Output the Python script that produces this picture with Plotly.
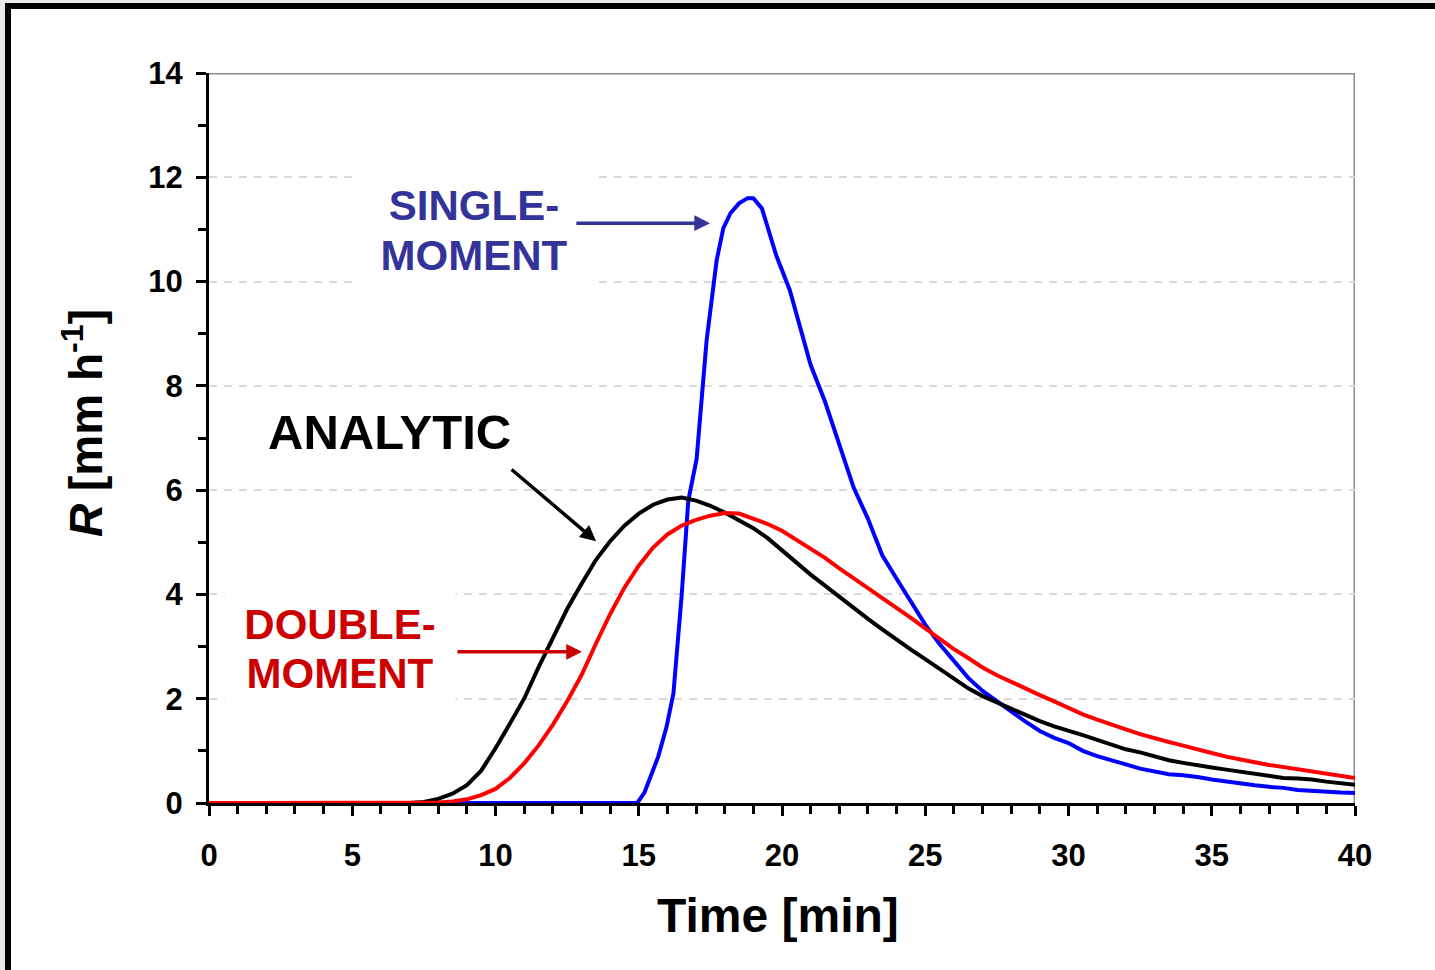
import plotly.graph_objects as go

# ---------------- data ----------------
analytic_t = [0, 7.0, 7.5, 8.0, 8.5, 9.0, 9.5, 10.0, 10.5, 11.0, 11.5, 12.0, 12.5, 13.0, 13.5,
              14.0, 14.5, 15.0, 15.5, 16.0, 16.5, 17.0, 17.5, 18.0, 18.5, 19.0, 19.5, 20.0,
              20.5, 21.0, 21.5, 22.0, 22.5, 23.0, 23.5, 24.0, 24.5, 25.0, 25.5, 26.0, 26.5,
              27.0, 27.5, 28.0, 28.5, 29.0, 29.5, 30.0, 30.5, 31.0, 31.5, 32.0, 32.5, 33.0,
              33.5, 34.0, 34.5, 35.0, 35.5, 36.0, 36.5, 37.0, 37.5, 38.0, 38.5, 39.0, 39.5, 40.0]
analytic_r = [0, 0.0, 0.02, 0.08, 0.18, 0.34, 0.62, 1.05, 1.52, 2.0, 2.6, 3.15, 3.72, 4.2, 4.66,
              5.02, 5.32, 5.55, 5.72, 5.82, 5.86, 5.8, 5.7, 5.57, 5.42, 5.27, 5.08, 4.85,
              4.6, 4.38, 4.17, 3.95, 3.74, 3.53, 3.33, 3.13, 2.94, 2.76, 2.58, 2.38, 2.2,
              2.05, 1.93, 1.8, 1.68, 1.57, 1.47, 1.39, 1.3, 1.21, 1.12, 1.03, 0.97, 0.9,
              0.82, 0.77, 0.72, 0.68, 0.64, 0.6, 0.55, 0.51, 0.48, 0.47, 0.45, 0.41, 0.38, 0.35]

double_t = [0, 7.5, 8.0, 8.5, 9.0, 9.5, 10.0, 10.5, 11.0, 11.5, 12.0, 12.5, 13.0, 13.5, 14.0,
            14.5, 15.0, 15.5, 16.0, 16.5, 17.0, 17.5, 18.0, 18.5, 19.0, 19.5, 20.0, 20.5,
            21.0, 21.5, 22.0, 22.5, 23.0, 23.5, 24.0, 24.5, 25.0, 25.5, 26.0, 26.5, 27.0,
            27.5, 28.0, 28.5, 29.0, 29.5, 30.0, 30.5, 31.0, 31.5, 32.0, 32.5, 33.0, 33.5,
            34.0, 34.5, 35.0, 35.5, 36.0, 36.5, 37.0, 37.5, 38.0, 38.5, 39.0, 39.5, 40.0]
double_r = [0, 0.0, 0.01, 0.03, 0.07, 0.15, 0.27, 0.48, 0.76, 1.1, 1.5, 1.95, 2.45, 3.05, 3.62,
            4.13, 4.55, 4.9, 5.15, 5.32, 5.43, 5.51, 5.56, 5.55, 5.46, 5.35, 5.22, 5.05,
            4.88, 4.7, 4.5, 4.32, 4.12, 3.93, 3.75, 3.55, 3.35, 3.15, 2.95, 2.78, 2.6,
            2.45, 2.32, 2.18, 2.07, 1.95, 1.82, 1.7, 1.6, 1.5, 1.41, 1.32, 1.24, 1.17,
            1.1, 1.02, 0.96, 0.89, 0.83, 0.78, 0.73, 0.69, 0.64, 0.6, 0.56, 0.52, 0.48]

single_t = [0, 14.95, 15.2, 15.4, 15.68, 15.97, 16.21, 16.5, 16.73, 17.02, 17.37, 17.72, 17.95,
            18.2, 18.5, 18.8, 19.0, 19.3, 19.5, 19.8, 20.27, 20.63, 21.0, 21.5, 22.0, 22.5,
            23.0, 23.5, 24.0, 24.5, 25.0, 25.5, 26.0, 26.5, 27.0, 27.5, 28.0, 28.5, 29.0,
            29.5, 30.0, 30.5, 31.0, 31.5, 32.0, 32.5, 33.0, 33.5, 34.0, 34.5, 35.0, 35.5,
            36.0, 36.5, 37.0, 37.5, 38.0, 38.5, 39.0, 39.5, 40.0]
single_r = [0, 0.0, 0.2, 0.5, 0.89, 1.46, 2.1, 4.0, 5.8, 6.6, 8.88, 10.41, 11.02,
            11.31, 11.5, 11.6, 11.6, 11.4, 11.05, 10.5, 9.84, 9.13, 8.4, 7.7, 6.9, 6.05,
            5.45, 4.75, 4.3, 3.86, 3.42, 3.05, 2.72, 2.4, 2.15, 1.95, 1.75, 1.56, 1.38,
            1.25, 1.15, 1.0, 0.9, 0.81, 0.74, 0.66, 0.6, 0.55, 0.53, 0.5, 0.45, 0.41,
            0.37, 0.34, 0.31, 0.29, 0.25, 0.23, 0.22, 0.2, 0.19]

x_ticks = [0, 5, 10, 15, 20, 25, 30, 35, 40]
y_ticks = [0, 2, 4, 6, 8, 10, 12, 14]

FONT = "Liberation Sans, Arial, sans-serif"
BLUE_TXT = "#333399"
RED_TXT = "#cc0000"

fig = go.Figure()
fig.add_trace(go.Scatter(x=single_t, y=single_r, mode="lines",
                         line=dict(color="#0000ff", width=4), name="SINGLE-MOMENT"))
fig.add_trace(go.Scatter(x=analytic_t, y=analytic_r, mode="lines",
                         line=dict(color="#000000", width=4), name="ANALYTIC"))
fig.add_trace(go.Scatter(x=double_t, y=double_r, mode="lines",
                         line=dict(color="#ff0000", width=4), name="DOUBLE-MOMENT"))

# plot-area geometry (px) used for paper coordinates
L, R_, T, B = 209, 80, 73, 167
W, H = 1435, 970
PW, PH = W - L - R_, H - T - B


def px2paper_x(px):
    return (px - L) / PW


def px2paper_y(py):
    return (H - B - py) / PH


shapes = [
    # outer frame
    dict(type="rect", xref="paper", yref="paper",
         x0=px2paper_x(8), x1=px2paper_x(1460), y0=px2paper_y(1000), y1=px2paper_y(6),
         line=dict(color="black", width=6), fillcolor="white", layer="below"),
    # gray top / right border
    dict(type="line", xref="x", yref="y", x0=0, x1=40, y0=14, y1=14,
         line=dict(color="#8c8c8c", width=3), layer="above"),
    dict(type="line", xref="x", yref="y", x0=40, x1=40, y0=0, y1=14,
         line=dict(color="#8c8c8c", width=3), layer="below"),
]

annotations = []


def label(text, x, y, size, color, width=None, height=None, bg=None):
    d = dict(text=text, x=x, y=y, xref="x", yref="y", showarrow=False,
             font=dict(family=FONT, size=size, color=color, weight="bold"),
             xanchor="center", yanchor="middle", borderpad=0)
    if width:
        d["width"] = width
    if height:
        d["height"] = height
    if bg:
        d["bgcolor"] = bg
    annotations.append(d)


def arrow(x_tail, y_tail, x_head, y_head, color):
    annotations.append(dict(text="", x=x_head, y=y_head, ax=x_tail, ay=y_tail,
                            xref="x", yref="y", axref="x", ayref="y",
                            showarrow=True, arrowhead=2, arrowsize=0.9,
                            arrowwidth=3.5, arrowcolor=color, standoff=0))


label("SINGLE-", 9.25, 11.47, 42, BLUE_TXT, 238, 58, "white")
label("MOMENT", 9.25, 10.51, 42, BLUE_TXT, 238, 56, "white")
label("DOUBLE-", 4.57, 3.43, 42, RED_TXT, 230, 62, "white")
label("MOMENT", 4.57, 2.49, 42, RED_TXT, 230, 60, "white")
label("ANALYTIC", 6.30, 7.12, 49, "black")

arrow(12.77, 11.12, 17.49, 11.12, BLUE_TXT)
arrow(10.51, 6.42, 13.51, 5.02, "black")
arrow(8.62, 2.90, 13.02, 2.90, RED_TXT)

# axis titles
annotations.append(dict(text="Time [min]", xref="paper", yref="paper",
                        x=px2paper_x(778), y=px2paper_y(915), showarrow=False,
                        xanchor="center", yanchor="middle",
                        font=dict(family=FONT, size=48, color="black", weight="bold")))
annotations.append(dict(text="<i>R</i> [mm h<sup>-1</sup>]", xref="paper", yref="paper",
                        x=px2paper_x(83), y=px2paper_y(423), showarrow=False,
                        textangle=-90, xanchor="center", yanchor="middle",
                        font=dict(family=FONT, size=46, color="black", weight="bold")))

fig.update_layout(
    width=W, height=H,
    margin=dict(l=L, r=R_, t=T, b=B),
    paper_bgcolor="#e8e8e8",
    plot_bgcolor="rgba(0,0,0,0)",
    showlegend=False,
    shapes=shapes,
    annotations=annotations,
    font=dict(family=FONT, color="black"),
)

fig.update_xaxes(
    range=[0, 40], tickvals=x_ticks, ticktext=[str(v) for v in x_ticks],
    showline=True, linecolor="black", linewidth=3,
    ticks="outside", ticklen=10, tickwidth=2.5, tickcolor="black",
    tickfont=dict(family=FONT, size=31, color="black", weight="bold"),
    ticklabelstandoff=13,
    minor=dict(dtick=1, tick0=0, ticks="outside", ticklen=8, tickwidth=2.5,
               tickcolor="black", showgrid=False),
    showgrid=False, zeroline=False,
)
fig.update_yaxes(
    range=[0, 14], tickvals=y_ticks, ticktext=[str(v) for v in y_ticks],
    showline=True, linecolor="black", linewidth=3,
    ticks="outside", ticklen=10, tickwidth=2.5, tickcolor="black",
    tickfont=dict(family=FONT, size=31, color="black", weight="bold"),
    ticklabelstandoff=7,
    minor=dict(dtick=1, tick0=0, ticks="outside", ticklen=8, tickwidth=2.5,
               tickcolor="black", showgrid=False),
    showgrid=True, gridcolor="#d9d9d9", gridwidth=1.5, griddash="8px,7px",
    zeroline=False,
)

fig.write_html("out.html")
